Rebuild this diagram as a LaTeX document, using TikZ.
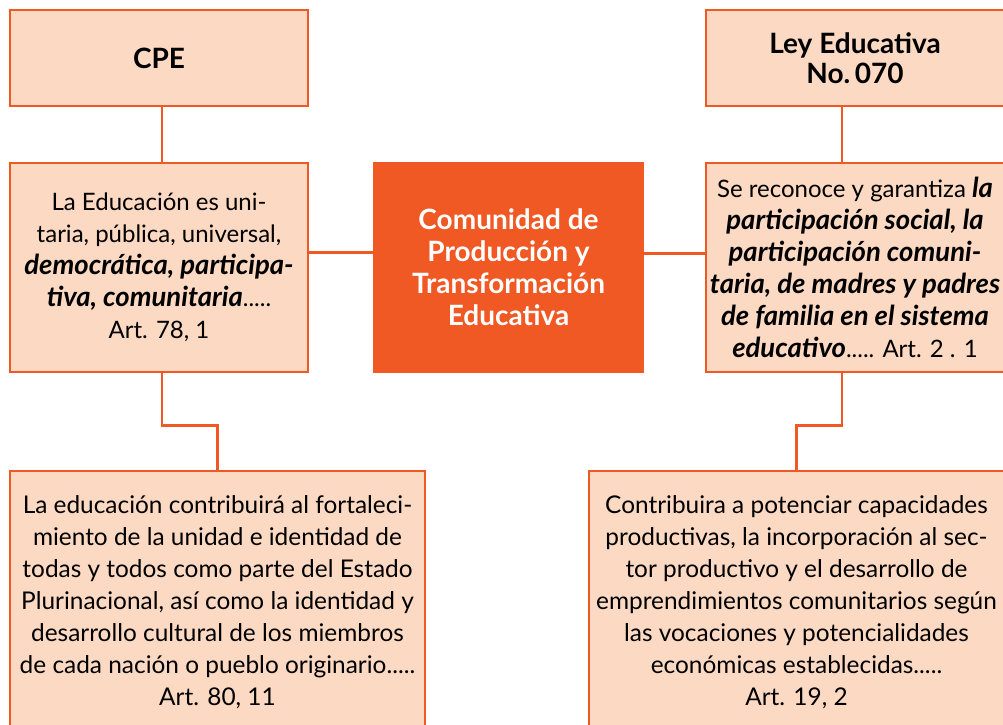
\documentclass[tikz,border=0pt]{standalone}
\usepackage{fontspec}
\setmainfont{Lato}
\definecolor{naranja}{RGB}{240,88,36}
\definecolor{durazno}{RGB}{252,217,194}
\newcommand{\enf}[1]{{\fontsize{27.5}{32}\selectfont\bfseries\itshape #1}}

\begin{document}
\begin{tikzpicture}[x=1pt,y=-1pt,
  caja/.style={draw=naranja, line width=2.5pt, fill=durazno, inner sep=0pt,
    align=center, font=\fontsize{24}{32}\selectfont},
  cajabaja/.style={caja, font=\fontsize{24.4}{32}\selectfont},
  titulo/.style={caja, font=\fontsize{28}{30}\selectfont\bfseries},
  centro/.style={fill=naranja, inner sep=0pt, align=center, text=white,
    font=\fontsize{28}{32}\selectfont\bfseries},
  linea/.style={draw=naranja, line width=2.5pt}]
\useasboundingbox (0,0) rectangle (1003,724);
\clip (0,0) rectangle (1003,724);

% cabeceras
\node[titulo, minimum width=298pt, minimum height=96pt] (cpe) at (159,58) {CPE};
\node[titulo, minimum width=298pt, minimum height=96pt] (ley) at (855,58)
  {Ley Educativa\\No.\,070};

% textos del medio
\node[caja, minimum width=298pt, minimum height=209pt] (educ) at (159,267.5)
  {La Educación es uni-\\taria, pública, universal,\\
   \enf{democrática, participa-}\\\enf{tiva, comunitaria}.....\\Art. 78, 1};
\node[caja, minimum width=298pt, minimum height=209pt] (part) at (855,267.5)
  {Se reconoce y garantiza \enf{la}\\\enf{participación social, la}\\
   \enf{participación comuni-}\\\enf{taria, de madres y padres}\\
   \enf{de familia en el sistema}\\\enf{educativo}..... Art. 2 . 1};

% centro
\node[centro, minimum width=271pt, minimum height=211pt] (cpte) at (508.5,267.5)
  {Comunidad de\\Producción y\\Transformación\\Educativa};

% textos de abajo
\node[cajabaja, minimum width=415pt, minimum height=262pt] (fort) at (217.5,602)
  {La educación contribuirá al fortaleci-\\miento de la unidad e identidad de\\
   todas y todos como parte del Estado\\Plurinacional, así como la identidad y\\
   desarrollo cultural de los miembros\\de cada nación o pueblo originario.....\\Art. 80, 11};
\node[cajabaja, minimum width=415pt, minimum height=262pt] (prod) at (796.5,602)
  {Contribuira a potenciar capacidades\\productivas, la incorporación al sec-\\
   tor productivo y el desarrollo de\\emprendimientos comunitarios según\\
   las vocaciones y potencialidades\\económicas establecidas.....\\Art. 19, 2};

% conectores
\draw[linea] ([xshift=3pt]cpe.south) -- ([xshift=3pt]educ.north);
\draw[linea] ([xshift=-13pt]ley.south) -- ([xshift=-13pt]part.north);
\draw[linea] ([yshift=15pt]educ.east) -- ([yshift=15pt]cpte.west);
\draw[linea] ([yshift=14pt]cpte.east) -- ([yshift=14pt]part.west);
\draw[linea] ([xshift=3pt]educ.south) -- ++(0,52) -| (fort.north);
\draw[linea] ([xshift=-13pt]part.south) -- ++(0,52) -| (prod.north);
\end{tikzpicture}
\end{document}
